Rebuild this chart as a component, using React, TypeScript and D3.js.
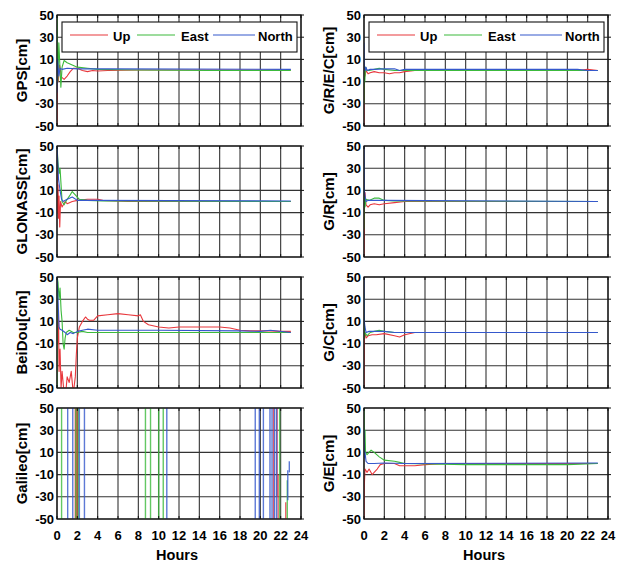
import * as d3 from "d3";
import React, { useRef, useEffect } from "react";

type Pt = [number, number];
type Seg = [number, number, number]; // hour, from, to

// hour -> cm
const gpsUp: Pt[] = [[0, -50], [0.03, 20], [0.12, -10], [0.25, 5], [0.45, -6], [0.7, -8], [1.0, -5], [1.3, -1], [1.6, 2], [2.0, 2], [2.5, 0], [3.0, -1], [3.5, 0], [4.0, -0.5], [5.0, 0], [8, 0.5], [23, 0.5]];
const gpsEast: Pt[] = [[0, 50], [0.08, -10], [0.18, 25], [0.28, 5], [0.38, -15], [0.5, 3], [0.7, 9], [1.0, 7], [1.5, 5], [2.0, 3], [3.0, 2], [4.0, 1], [8, 0.5], [15, 0], [23, 0]];
const gpsNorth: Pt[] = [[0, -20], [0.04, 10], [0.1, 5], [0.18, -5], [0.3, 2], [0.5, 1], [1.0, 2], [2.0, 1.5], [5, 1.5], [23, 1]];

const glonassUp: Pt[] = [[0, 40], [0.05, -10], [0.1, 15], [0.15, -15], [0.2, 5], [0.27, -23], [0.35, 0], [0.5, -5], [0.8, 0], [1.0, -2], [1.5, 0], [2.0, 1], [3.0, 2], [4.0, 2], [4.5, 1], [7, 0], [23, 0]];
const glonassEast: Pt[] = [[0, 50], [0.1, 35], [0.2, 25], [0.3, 30], [0.4, 15], [0.5, 0], [0.7, -3], [1.0, 2], [1.3, 6], [1.5, 9], [1.8, 6], [2.2, 2], [3.0, 1], [4.5, 0.5], [23, 0]];
const glonassNorth: Pt[] = [[0, 50], [0.15, 20], [0.3, 10], [0.45, 2], [0.6, 0], [1.0, 2], [1.5, 4], [2.0, 1], [3.0, 1], [23, 0.5]];

const beidouUp: Pt[] = [[0.05, 30], [0.1, -10], [0.15, 20], [0.2, -35], [0.3, -15], [0.4, -50], [0.5, -35], [0.6, -45], [0.7, -55], [0.9, -50], [1.0, -40], [1.2, -45], [1.4, -35], [1.6, -55], [1.8, -40], [1.9, -20], [2.0, -5], [2.2, 5], [2.5, 10], [2.8, 14], [3.0, 12], [3.2, 11], [3.6, 11], [4.0, 15], [5, 16], [6, 17], [7, 16], [8, 15], [8.2, 16], [8.5, 10], [9, 7], [10, 5], [11, 4], [12, 5], [14, 5], [16, 5], [17, 4], [18, 2], [19, 1.5], [21, 1.5], [22, 1], [23, 1]];
const beidouEast: Pt[] = [[0, -50], [0.02, 50], [0.1, 45], [0.2, 30], [0.3, 40], [0.4, 20], [0.5, 10], [0.6, -10], [0.7, -15], [0.8, -5], [0.9, 0], [1.2, 2], [1.6, 0], [2.0, 0], [2.5, 1], [3.0, 0], [23, 0]];
const beidouNorth: Pt[] = [[0, 50], [0.1, 30], [0.2, 5], [0.3, 3], [0.5, 2], [0.8, 0], [1.0, -2], [1.3, 0], [1.6, -1], [2.0, 1], [2.5, 2], [3.0, 3], [4.0, 2], [10, 2], [18, 1.5], [20, 1], [21, 2], [23, 0]];

const galileoUp: Seg[] = [[1.8, -60, 60], [1.9, -60, 60], [2.0, -60, 60], [21.3, -60, 60], [21.65, -30, 60], [21.75, -60, -10], [22.5, -60, -35]];
const galileoEast: Seg[] = [[0.45, -60, 60], [1.85, -60, 60], [2.1, -60, 60], [8.7, -60, 60], [9.2, -60, 60], [10.0, -60, 60], [10.45, -60, 60], [21.9, -60, 60], [22.65, -55, -15]];
const galileoNorth: Seg[] = [[1.05, -60, 60], [1.55, -60, 60], [2.2, -60, 60], [2.7, -60, 60], [10.8, -60, 60], [19.5, -60, 60], [19.9, -60, 60], [20.3, -60, 60], [20.95, -60, 60], [21.15, -60, 60], [21.4, -60, 60], [21.6, -60, 60], [22.7, -33, -6], [22.85, -8, 2]];

const grecUp: Pt[] = [[0, -50], [0.03, 5], [0.1, -5], [0.2, 0], [0.4, -3], [0.6, -2], [1.0, -1], [1.5, -2], [2.0, -2], [2.5, -3], [3.0, -2], [3.5, -2], [4.0, -1], [5, 0], [8, 0], [21, 0], [22, 1], [23, 0]];
const grecEast: Pt[] = [[0, -30], [0.03, 0], [0.08, -10], [0.15, 3], [0.3, 0], [0.5, 0], [1.0, 1], [1.5, 2], [2.0, 1], [3.0, 0], [4.0, 0], [23, 0]];
const grecNorth: Pt[] = [[0, 25], [0.03, 5], [0.1, 0], [0.2, 3], [0.3, 0], [0.6, 1], [1.0, 1], [2.0, 1.5], [3.0, 1.5], [3.5, 0], [4.0, 1], [8, 1], [21, 1], [22, 0], [23, 0]];

const grUp: Pt[] = [[0, -50], [0.03, -30], [0.05, 5], [0.1, 8], [0.2, -3], [0.4, -5], [0.6, -3], [1.0, -2], [1.5, -3], [2.0, -2], [3.0, -1], [4.0, 0], [23, 0]];
const grEast: Pt[] = [[0, -25], [0.03, 5], [0.1, -5], [0.2, 2], [0.5, 1], [1.0, 3], [1.5, 3], [2.0, 1], [3.0, 0.5], [23, 0]];
const grNorth: Pt[] = [[0, 50], [0.03, 10], [0.1, 5], [0.2, 0], [0.4, 1], [1.0, 1], [2.0, 1], [23, 0]];

const gcUp: Pt[] = [[0, -50], [0.03, -5], [0.1, 0], [0.2, -5], [0.4, -3], [0.8, -2], [1.2, -2], [2.0, -1], [3.0, -3], [3.5, -4], [4.0, -2], [5, 0], [23, 0]];
const gcEast: Pt[] = [[0, 35], [0.03, -5], [0.1, 0], [0.3, -3], [0.6, 0], [1.0, 1], [1.5, 2], [2.0, 1], [3.0, 0], [23, 0]];
const gcNorth: Pt[] = [[0, 50], [0.03, 10], [0.1, 5], [0.2, 0], [0.5, 1], [1.0, 1], [2.0, 1], [3.0, 0], [23, 0]];

const geUp: Pt[] = [[0, -50], [0.03, -20], [0.1, -5], [0.3, -8], [0.5, -5], [0.8, -10], [1.0, -8], [1.3, -5], [1.6, -1], [2.0, 0], [3.0, 0], [3.5, -2], [4.0, -2], [5, -2], [6, -1], [8, 0], [23, 0]];
const geEast: Pt[] = [[0, 50], [0.03, 20], [0.1, 30], [0.15, 10], [0.3, 8], [0.5, 10], [0.7, 12], [1.0, 10], [1.5, 6], [2.0, 3], [3.0, 2], [3.5, 1], [4.0, 0], [10, -1], [20, -1], [23, 0]];
const geNorth: Pt[] = [[0, 30], [0.03, 5], [0.1, 10], [0.2, 2], [0.4, 0], [1.0, 0], [2.0, 0.5], [4.0, 0], [23, 0.5]];

const yTicks = [-50, -30, -10, 10, 30, 50];
const xTicks = [0, 2, 4, 6, 8, 10, 12, 14, 16, 18, 20, 22, 24];
const seriesNames = ["Up", "East", "North"];
const colors = ["#e8383d", "#3cba3c", "#3558cc"];

const panels = [
  { label: "GPS[cm]", col: 0, row: 0, up: gpsUp, east: gpsEast, north: gpsNorth, legend: true },
  { label: "GLONASS[cm]", col: 0, row: 1, up: glonassUp, east: glonassEast, north: glonassNorth },
  { label: "BeiDou[cm]", col: 0, row: 2, up: beidouUp, east: beidouEast, north: beidouNorth },
  { label: "Galileo[cm]", col: 0, row: 3, segs: [galileoUp, galileoEast, galileoNorth] },
  { label: "G/R/E/C[cm]", col: 1, row: 0, up: grecUp, east: grecEast, north: grecNorth, legend: true },
  { label: "G/R[cm]", col: 1, row: 1, up: grUp, east: grEast, north: grNorth },
  { label: "G/C[cm]", col: 1, row: 2, up: gcUp, east: gcEast, north: gcNorth },
  { label: "G/E[cm]", col: 1, row: 3, up: geUp, east: geEast, north: geNorth },
];

const App: React.FC = () => {
  const svgRef = useRef<SVGSVGElement>(null);

  useEffect(() => {
    const svg = d3.select(svgRef.current);
    svg.selectAll("*").remove();

    const width = 624;
    const height = 565;
    const colLeft = [57, 364];
    const rowTop = [15, 146, 277, 408];
    const plotW = 244;
    const plotH = 111;
    const font = "'Liberation Sans', Arial, sans-serif";

    svg.attr("width", width).attr("height", height);
    svg.append("rect").attr("width", width).attr("height", height).attr("fill", "white");

    panels.forEach((p, i) => {
      const x0 = colLeft[p.col];
      const y0 = rowTop[p.row];
      const x = d3.scaleLinear().domain([0, 24]).range([x0, x0 + plotW]);
      const y = d3.scaleLinear().domain([-50, 50]).range([y0 + plotH, y0]);
      const g = svg.append("g");

      g.append("clipPath").attr("id", `clip${i}`)
        .append("rect").attr("x", x0).attr("y", y0).attr("width", plotW).attr("height", plotH);

      // grid
      g.append("g").attr("stroke", "#333").attr("stroke-width", 1.1)
        .selectAll("line.v").data(xTicks).join("line")
        .attr("x1", d => x(d)).attr("x2", d => x(d)).attr("y1", y0).attr("y2", y0 + plotH);
      g.append("g").attr("stroke", "#333").attr("stroke-width", 1.1)
        .selectAll("line.h").data(yTicks).join("line")
        .attr("x1", x0).attr("x2", x0 + plotW).attr("y1", d => y(d)).attr("y2", d => y(d));

      const plot = g.append("g").attr("clip-path", `url(#clip${i})`);
      if (p.segs) {
        p.segs.forEach((segs, k) => {
          plot.append("g").attr("stroke", colors[k]).attr("stroke-width", 1.4).attr("stroke-opacity", 0.8)
            .selectAll("line").data(segs).join("line")
            .attr("x1", d => x(d[0])).attr("x2", d => x(d[0]))
            .attr("y1", d => y(d[1])).attr("y2", d => y(d[2]));
        });
      } else {
        const line = d3.line<Pt>().x(d => x(d[0])).y(d => y(d[1]));
        [p.up, p.east, p.north].forEach((s, k) => {
          plot.append("path").datum(s!)
            .attr("fill", "none").attr("stroke", colors[k]).attr("stroke-width", 1.1)
            .attr("stroke-linejoin", "round").attr("d", line);
        });
      }

      // box and inward ticks
      g.append("rect").attr("x", x0).attr("y", y0).attr("width", plotW).attr("height", plotH)
        .attr("fill", "none").attr("stroke", "#111").attr("stroke-width", 1.2);
      const tk = g.append("g").attr("stroke", "#111").attr("stroke-width", 1);
      xTicks.forEach(t => {
        tk.append("line").attr("x1", x(t)).attr("x2", x(t)).attr("y1", y0).attr("y2", y0 + 3);
        tk.append("line").attr("x1", x(t)).attr("x2", x(t)).attr("y1", y0 + plotH).attr("y2", y0 + plotH - 3);
      });
      yTicks.forEach(t => {
        tk.append("line").attr("x1", x0 + plotW).attr("x2", x0 + plotW + 3).attr("y1", y(t)).attr("y2", y(t));
      });

      // y tick labels
      g.append("g").attr("font-family", font).attr("font-weight", "bold").attr("font-size", 13)
        .attr("text-anchor", "end")
        .selectAll("text").data(yTicks).join("text")
        .attr("x", x0 - 3).attr("y", d => y(d) + 4.6).text(d => d);

      // y label
      g.append("text")
        .attr("transform", `translate(${x0 - 30},${y0 + plotH / 2}) rotate(-90)`)
        .attr("text-anchor", "middle").attr("font-family", font).attr("font-weight", "bold")
        .attr("font-size", 15).text(p.label);

      if (p.row === 3) {
        g.append("g").attr("font-family", font).attr("font-weight", "bold").attr("font-size", 13)
          .attr("text-anchor", "middle")
          .selectAll("text").data(xTicks).join("text")
          .attr("x", d => x(d)).attr("y", 540).text(d => d);
        g.append("text").attr("x", x0 + plotW / 2 - 2).attr("y", 560)
          .attr("text-anchor", "middle").attr("font-family", font).attr("font-weight", "bold")
          .attr("font-size", 14.5).text("Hours");
      }

      if (p.legend) {
        const lg = g.append("g");
        lg.append("rect").attr("x", x0 + 5).attr("y", y0 + 7).attr("width", 235).attr("height", 30)
          .attr("fill", "white").attr("stroke", "#111").attr("stroke-width", 1.1);
        const lineX = [13, 80, 156];
        const lineLen = [38, 38, 42];
        const textX = [56, 124, 201];
        seriesNames.forEach((n, k) => {
          lg.append("line").attr("x1", x0 + lineX[k]).attr("x2", x0 + lineX[k] + lineLen[k])
            .attr("y1", y0 + 20).attr("y2", y0 + 20).attr("stroke", colors[k]).attr("stroke-width", 1.1);
          lg.append("text").attr("x", x0 + textX[k]).attr("y", y0 + 26)
            .attr("font-family", font).attr("font-weight", "bold").attr("font-size", 13).text(n);
        });
      }
    });
  }, []);

  return <svg ref={svgRef} style={{ position: "absolute", left: 0, top: 0 }}></svg>;
};

export default App;
